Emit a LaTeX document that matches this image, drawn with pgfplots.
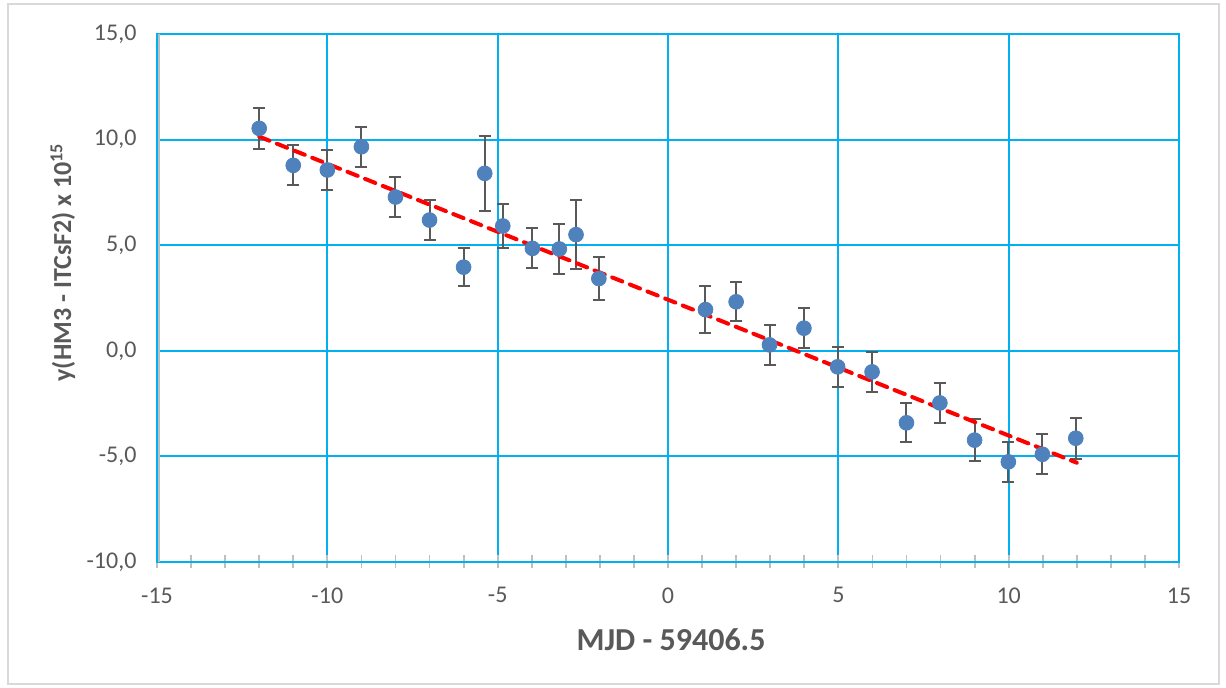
\documentclass[border=0pt]{standalone}
\usepackage{pgfplots}
\pgfplotsset{compat=1.18}
\usepackage{fontspec}
\setmainfont{Carlito}
\definecolor{gridblue}{RGB}{0,176,240}
\definecolor{ptblue}{RGB}{79,129,189}
\definecolor{txtgray}{RGB}{89,89,89}
\definecolor{axgray}{RGB}{191,191,191}
\definecolor{framegray}{RGB}{217,217,217}

\pgfplotstableread{
x      y      e
-12    10.53  0.97
-11    8.78   0.94
-10    8.56   0.96
-9     9.66   0.94
-8     7.28   0.95
-7     6.19   0.93
-6     3.96   0.91
-5.38  8.40   1.77
-4.85  5.91   1.05
-3.98  4.85   0.95
-3.19  4.82   1.17
-2.70  5.50   1.62
-2.03  3.42   1.03
1.10   1.95   1.10
2.00   2.32   0.93
2.98   0.28   0.95
3.99   1.07   0.95
4.98  -0.76   0.95
5.99  -1.00   0.95
7.00  -3.41   0.92
7.98  -2.47   0.95
9.00  -4.23   1.00
9.99  -5.26   0.96
10.99 -4.90   0.95
11.97 -4.14   0.97
}\gammadata

\begin{document}
\begin{tikzpicture}
\path[use as bounding box] (0,0) rectangle (613pt,344pt);
\draw[framegray, line width=0.8pt] (4pt,2pt) rectangle (609.5pt,342pt);
\begin{axis}[
  at={(78.5pt,63pt)}, anchor=south west,
  width=511pt, height=264pt, scale only axis,
  xmin=-15, xmax=15, ymin=-10, ymax=15,
  xtick={-15,-10,...,15}, ytick={-10,-5,...,15},
  minor x tick num=4,
  xtick pos=bottom,
  grid=major,
  major grid style={gridblue, line width=1pt},
  axis line style={gridblue, line width=1.3pt},
  ytick style={draw=none},
  xtick style={axgray, line width=0.9pt},
  minor x tick style={axgray, line width=0.9pt},
  tick align=center,
  major tick length=6.5pt, minor tick length=6.5pt,
  /pgf/number format/assume math mode=true,
  ticklabel style={font=\fontsize{12}{14}\selectfont, text=txtgray},
  yticklabel style={/pgf/number format/fixed, /pgf/number format/fixed zerofill,
    /pgf/number format/precision=1, /pgf/number format/use comma, xshift=-3.5pt},
  xticklabel style={yshift=-6pt},
  xlabel={MJD - 59406.5},
  xlabel style={font=\fontsize{16}{18}\selectfont\bfseries, text=txtgray,
    at={(axis description cs:0.503,-0.148)}, anchor=center},
  ylabel={y(HM3 - ITCsF2) x 10\textsuperscript{15}},
  ylabel style={font=\fontsize{13}{15}\selectfont\bfseries, text=txtgray,
    at={(axis description cs:-0.092,0.568)}, anchor=center},
]
\addplot[only marks, mark=*, mark size=3.7pt, mark options={fill=ptblue, draw=ptblue},
  error bars/.cd, y dir=both, y explicit,
  error bar style={txtgray, line width=1pt},
  error mark options={rotate=90, txtgray, mark size=3pt, line width=1pt}]
  table[x=x, y=y, y error=e] {\gammadata};
\addplot[red, line width=2pt, dash pattern=on 5.5pt off 4pt, line cap=round]
  coordinates {(-12,10.14) (12,-5.30)};
\draw[axgray, line width=0.8pt] ([yshift=-1pt]rel axis cs:0,0) -- ([yshift=-1pt]rel axis cs:1,0);
\draw[axgray, line width=0.8pt] ([xshift=1pt]rel axis cs:0,0) -- ([xshift=1pt]rel axis cs:0,1);
\end{axis}
\end{tikzpicture}
\end{document}
